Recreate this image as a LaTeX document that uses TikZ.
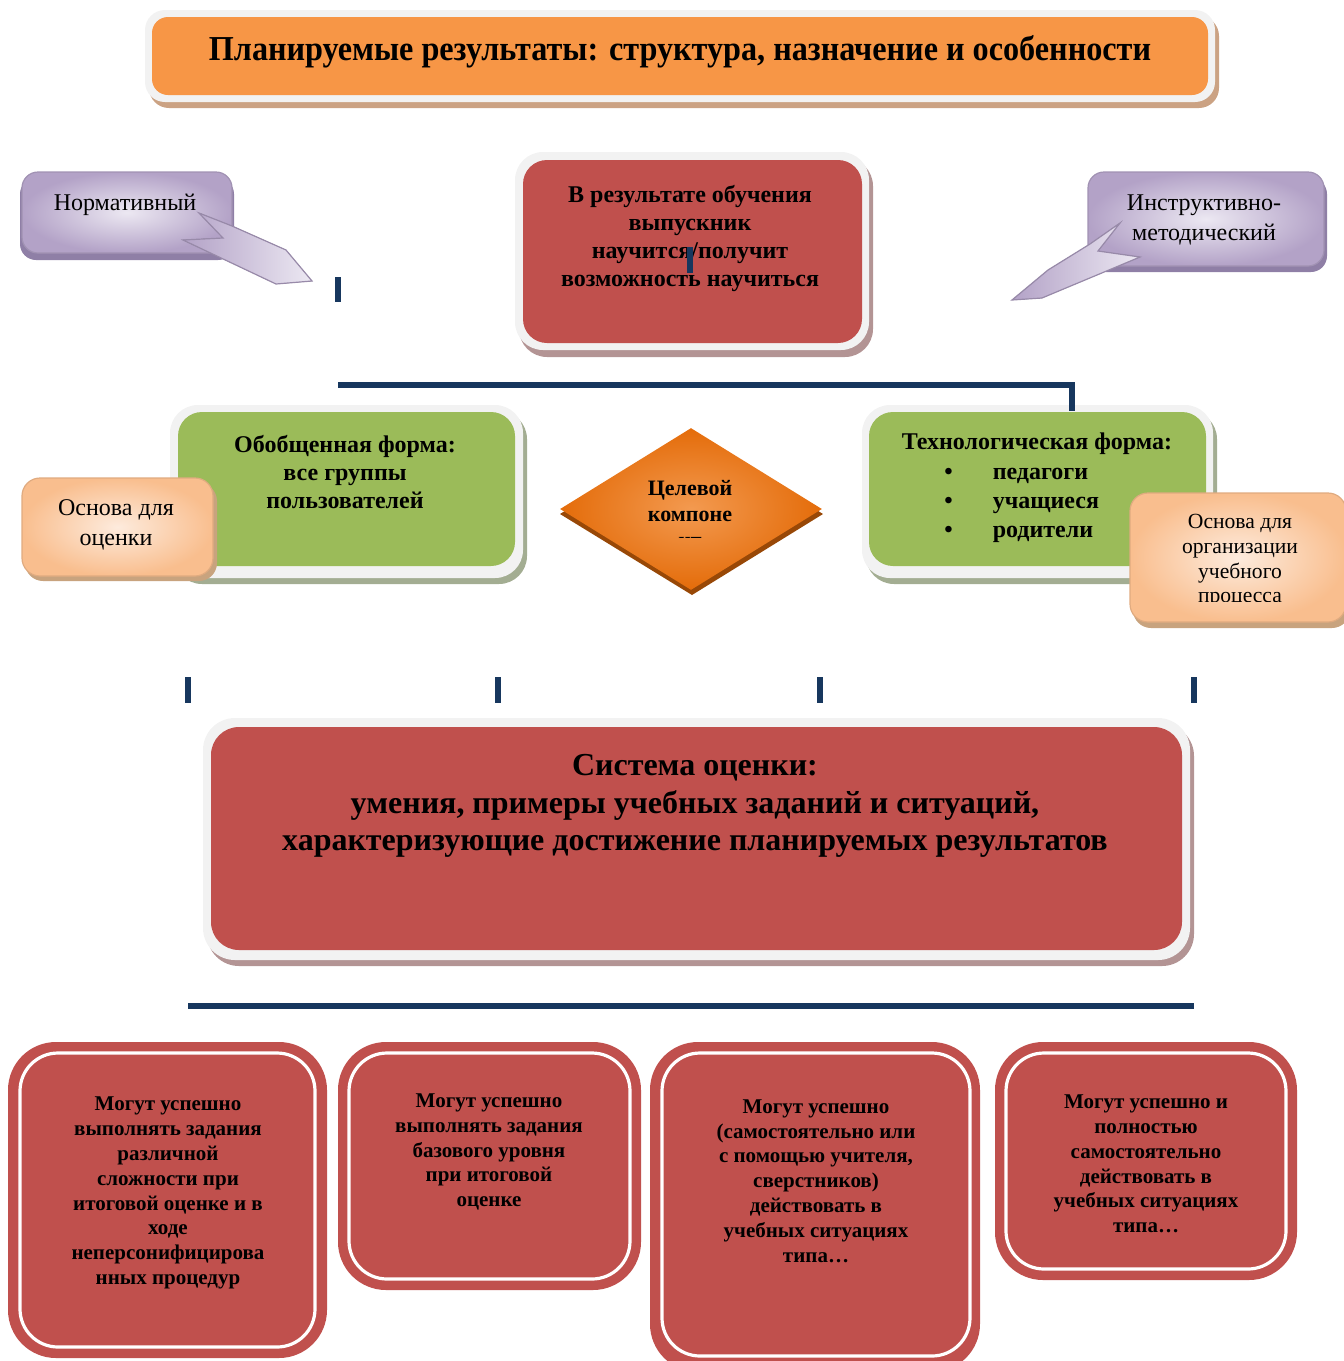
\documentclass[tikz,border=0pt]{standalone}
\usepackage{fontspec}
\setmainfont{Liberation Serif}
\usetikzlibrary{shapes.geometric,fit,positioning}

\definecolor{redfill}{HTML}{C0504D}
\definecolor{greenfill}{HTML}{9BBB59}
\definecolor{orangefill}{HTML}{F79646}
\definecolor{navyrule}{HTML}{17375E}
\definecolor{framegray}{HTML}{F2F2F2}
\definecolor{peachdark}{HTML}{F9BE8E}
\definecolor{peachlight}{HTML}{FDEBDD}
\definecolor{lavdark}{HTML}{B3A2C7}
\definecolor{lavlight}{HTML}{ECE8F2}
\definecolor{diamdark}{HTML}{E46C0A}
\definecolor{diamlight}{HTML}{F39A50}
\definecolor{diamshadow}{HTML}{984807}
\definecolor{titleshadow}{HTML}{CBA283}
\definecolor{redshadow}{HTML}{B39494}
\definecolor{greenshadow}{HTML}{A3AD92}
\definecolor{peachshadow}{HTML}{C8A37E}
\definecolor{lavshadow}{HTML}{8F7FA6}

\tikzset{
  frame/.style={fill=framegray, rounded corners=14pt},
  redbox/.style={fill=redfill, rounded corners=12pt, inner sep=0pt},
  greenbox/.style={fill=greenfill, rounded corners=12pt, inner sep=0pt},
  peachbox/.style={inner color=peachlight, outer color=peachdark, draw=peachdark!90!black, line width=0.6pt, rounded corners=9pt, inner sep=0pt},
  lavbox/.style={inner color=lavlight, outer color=lavdark, draw=lavdark!90!black, line width=0.6pt, rounded corners=8pt, inner sep=0pt},
  lavtail/.style={left color=lavdark, right color=lavlight, draw=lavdark!85!black, line width=0.6pt},
  resbox/.style={fill=redfill, rounded corners=24pt, inner sep=0pt},
  resline/.style={draw=white, line width=1.6pt, rounded corners=19pt, inner sep=0pt},
  rule/.style={draw=navyrule, line width=2.6pt},
  plain/.style={font=\fontsize{12}{15}\selectfont, align=center},
  goalfont/.style={font=\bfseries\fontsize{12}{14}\selectfont, align=center},
  resfont/.style={font=\bfseries\fontsize{10.5}{12.4}\selectfont, align=center}
}

\begin{document}
\begin{tikzpicture}[x=0.5pt, y=-0.5pt]
\useasboundingbox (0,0) rectangle (1344,1361);

% title
\fill[titleshadow, rounded corners=10pt] (149,16) rectangle (1219,108);
\fill[frame, rounded corners=10pt] (145,10) rectangle (1215,102);
\node[fill=orangefill, rounded corners=8pt, inner sep=0pt, fit={(152,17) (1208,95)}] (title) {};
\node[font=\bfseries\fontsize{17.5}{20}\selectfont] (titletext) at (680,52) {\scalebox{0.92}[1]{Планируемые результаты: структура, назначение и особенности}};

% goal box
\fill[redshadow, rounded corners=14pt] (519,158) rectangle (873,357);
\fill[frame] (515,152) rectangle (869,350);
\node[redbox, fit={(523,160) (862,343)}] (goal) {};
\node[goalfont] (goaltext) at (690,238) {В результате обучения\\выпускник\\научится/получит\\возможность научиться};

% callouts
\fill[lavshadow, rounded corners=8pt] (20,178) rectangle (234,260);
\node[lavbox, fit={(22,172) (232,253)}] (norm) {};
\filldraw[lavtail] (199,213) -- (223,238) -- (183,240) -- (276,284) -- (312,281) -- (286,250) -- (232,226) -- cycle;
\node[plain] (normtext) at (125,205) {Нормативный};

\fill[lavshadow, rounded corners=8pt] (1090,178) rectangle (1327,272);
\node[lavbox, fit={(1088,172) (1324,266)}] (instr) {};
\filldraw[lavtail] (1120,223) -- (1098,251) -- (1140,257) -- (1042,298) -- (1012,300) -- (1048,270) -- (1090,244) -- cycle;
\node[plain] (instrtext) at (1204,220) {Инструктивно-\\методический};

% green boxes
\fill[greenshadow, rounded corners=14pt] (174,411) rectangle (527,584);
\fill[frame] (170,405) rectangle (523,578);
\node[greenbox, fit={(178,412) (515,566)}] (general) {};
\node[goalfont] (generaltext) at (345,472) {Обобщенная форма:\\все группы\\пользователей};

\fill[greenshadow, rounded corners=14pt] (866,411) rectangle (1217,584);
\fill[frame] (862,405) rectangle (1213,578);
\node[greenbox, fit={(869,412) (1206,566)}] (tech) {};
\node[font=\bfseries\fontsize{12}{14}\selectfont] (techtext) at (1037,444) {Технологическая форма:};
\node[font=\bfseries\fontsize{12}{14.5}\selectfont, anchor=north west, inner sep=0pt] (techlist) at (944,459) {%
  \begin{tabular}{@{}l@{\hspace{20pt}}l@{}}
  • & педагоги\\
  • & учащиеся\\
  • & родители
  \end{tabular}};

% peach boxes
\fill[peachshadow, rounded corners=9pt] (25,483) rectangle (217,581);
\node[peachbox, fit={(22,478) (213,576)}] (basis) {};
\node[plain] (basistext) at (116,525) {Основа для\\оценки};

\fill[peachshadow, rounded corners=9pt] (1133,498) rectangle (1350,628);
\node[peachbox, fit={(1130,493) (1346,622)}] (orgbasis) {};
\begin{scope}
  \clip (1130,493) rectangle (1344,601);
  \node[plain, font=\fontsize{10.8}{12.3}\selectfont] (orgtext) at (1240,561) {Основа для\\организации\\учебного\\процесса};
\end{scope}

% target diamond
\fill[diamshadow] (560,514) -- (692,433) -- (823,514) -- (692,595) -- cycle;
\node[diamond, inner color=diamlight, outer color=diamdark, minimum width=131pt, minimum height=81pt, shape aspect=1.62, inner sep=0pt] (target) at (691,509) {};
\begin{scope}
  \clip (600,440) rectangle (780,537);
  \node[goalfont, font=\bfseries\fontsize{11}{13}\selectfont] (targettext) at (690,514) {Целевой\\компоне\\нт};
\end{scope}

% system box
\fill[redshadow, rounded corners=16pt] (207,724) rectangle (1194,966);
\fill[frame, rounded corners=16pt] (203,718) rectangle (1190,960);
\node[redbox, rounded corners=14pt, fit={(211,727) (1182,950)}] (system) {};
\node[font=\bfseries\fontsize{16}{18.7}\selectfont, align=center] (systemtext) at (695,806) {Система оценки:\\умения, примеры учебных заданий и ситуаций,\\характеризующие достижение планируемых результатов};

% connector rules
\coordinate (tickA) at (338,277);
\coordinate (tickB) at (690,247);
\coordinate (busL) at (338,385);
\coordinate (busR) at (1072,411);
\draw[rule] (tickA) -- ++(0,25);
\draw[rule] (tickB) -- ++(0,26);
\draw[rule] (busL) -| (busR);
\foreach \x in {188,498,820,1194}
  \draw[rule] (\x,677) -- (\x,703);
\coordinate (baseL) at (188,1006);
\coordinate (baseR) at (1194,1006);
\draw[rule] (baseL) -- (baseR);

% result boxes
\node[resbox, fit={(8,1042) (327,1358)}] (resA) {};
\node[resline, fit={(20,1053) (315,1347)}] (resAin) {};
\node[resfont] (resAtext) at (168,1193) {Могут успешно\\выполнять задания\\различной\\сложности при\\итоговой оценке и в\\ходе\\неперсонифицирова\\нных процедур};

\node[resbox, fit={(338,1042) (641,1290)}] (resB) {};
\node[resline, fit={(349,1053) (630,1279)}] (resBin) {};
\node[resfont] (resBtext) at (489,1152) {Могут успешно\\выполнять задания\\базового уровня\\при итоговой\\оценке};

\node[resbox, fit={(650,1042) (980,1372)}] (resC) {};
\node[resline, fit={(662,1053) (970,1356)}] (resCin) {};
\node[resfont] (resCtext) at (816,1181) {Могут успешно\\(самостоятельно или\\с помощью учителя,\\сверстников)\\действовать в\\учебных ситуациях\\типа…};

\node[resbox, fit={(995,1042) (1297,1280)}] (resD) {};
\node[resline, fit={(1006,1053) (1286,1269)}] (resDin) {};
\node[resfont] (resDtext) at (1146,1164) {Могут успешно и\\полностью\\самостоятельно\\действовать в\\учебных ситуациях\\типа…};
\end{tikzpicture}
\end{document}
